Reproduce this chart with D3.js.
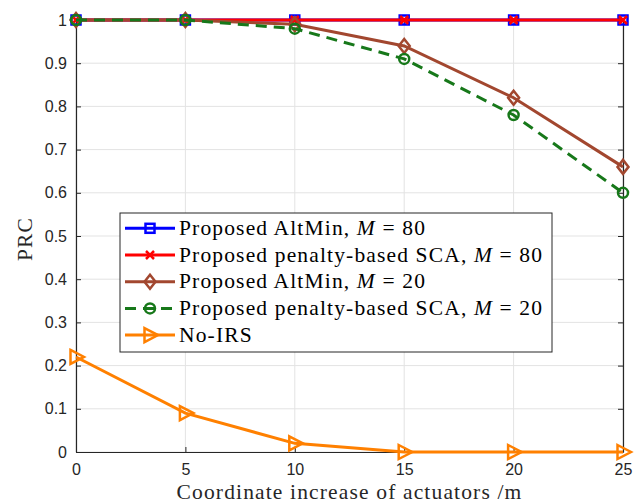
<!DOCTYPE html>
<html>
<head>
<meta charset="utf-8">
<script src="https://cdn.jsdelivr.net/npm/d3@7"></script>
<style>
  html, body { margin: 0; padding: 0; background: #fff; }
  svg { display: block; }
</style>
</head>
<body>
<svg id="chart" width="641" height="503"></svg>
<script>
// Coordinate increase of actuators (m)
const xValues = [0, 5, 10, 15, 20, 25];

// PRC for each scheme
const altMin80 = [1, 1, 1, 1, 1, 1];
const sca80 = [1, 1, 1, 1, 1, 1];
const altMin20 = [1, 1, 0.99, 0.94, 0.82, 0.66];
const sca20 = [1, 1, 0.98, 0.91, 0.78, 0.60];
const noIRS = [0.22, 0.09, 0.02, 0, 0, 0];

const xTicks = [0, 5, 10, 15, 20, 25];
const yTicks = [0, 0.1, 0.2, 0.3, 0.4, 0.5, 0.6, 0.7, 0.8, 0.9, 1];

const series = [
  { name: "Proposed AltMin, ", m: "80", values: altMin80, color: "#0000ff", marker: "square", dash: null },
  { name: "Proposed penalty-based SCA, ", m: "80", values: sca80, color: "#ff0000", marker: "x", dash: null },
  { name: "Proposed AltMin, ", m: "20", values: altMin20, color: "#a2472f", marker: "diamond", dash: null },
  { name: "Proposed penalty-based SCA, ", m: "20", values: sca20, color: "#17781a", marker: "circle", dash: "11,7" },
  { name: "No-IRS", m: null, values: noIRS, color: "#ff8000", marker: "triangle", dash: null }
];

const svg = d3.select("#chart");
const margin = { left: 76, right: 18, top: 20, bottom: 51 };
const W = 641, H = 503;
const x = d3.scaleLinear().domain([0, 25]).range([margin.left, W - margin.right]);
const y = d3.scaleLinear().domain([0, 1]).range([H - margin.bottom, margin.top]);

const tickFont = "'Liberation Sans', Arial, sans-serif";
const serif = "'Liberation Serif', 'Times New Roman', serif";
const serifSize = 21.5;
const serifSpacing = "1.15px";

// grid
const grid = svg.append("g");
grid.selectAll("line.gx").data(xTicks).join("line")
  .attr("x1", d => x(d)).attr("x2", d => x(d))
  .attr("y1", y(0)).attr("y2", y(1))
  .attr("stroke", "#e3e3e3").attr("stroke-width", 1);
grid.selectAll("line.gy").data(yTicks).join("line")
  .attr("x1", x(0)).attr("x2", x(25))
  .attr("y1", d => y(d)).attr("y2", d => y(d))
  .attr("stroke", "#e3e3e3").attr("stroke-width", 1);

// axes with inward ticks
const axisColor = "#262626";
const xAxis = svg.append("g").attr("transform", `translate(0,${y(0)})`)
  .call(d3.axisBottom(x).tickValues(xTicks).tickSizeInner(-5).tickSizeOuter(0).tickPadding(12).tickFormat(d3.format("d")));
const yAxis = svg.append("g").attr("transform", `translate(${x(0)},0)`)
  .call(d3.axisLeft(y).tickValues(yTicks).tickSizeInner(-5).tickSizeOuter(0).tickPadding(9).tickFormat(d => d === 0 || d === 1 ? d3.format("d")(d) : d3.format(".1f")(d)));
const xTop = svg.append("g").attr("transform", `translate(0,${y(1)})`)
  .call(d3.axisTop(x).tickValues(xTicks).tickSizeInner(-5).tickSizeOuter(0).tickFormat(""));
const yRight = svg.append("g").attr("transform", `translate(${x(25)},0)`)
  .call(d3.axisRight(y).tickValues(yTicks).tickSizeInner(-5).tickSizeOuter(0).tickFormat(""));
[xAxis, yAxis, xTop, yRight].forEach(g => {
  g.select(".domain").attr("stroke", axisColor).attr("stroke-width", 1.2);
  g.selectAll(".tick line").attr("stroke", axisColor).attr("stroke-width", 1);
  g.selectAll("text").attr("font-family", tickFont).attr("font-size", 16).attr("fill", "#262626");
});

// markers
function drawMarker(g, type, cx, cy, color) {
  if (type === "square") {
    g.append("rect").attr("x", cx - 4.5).attr("y", cy - 4.5).attr("width", 9).attr("height", 9)
      .attr("fill", "none").attr("stroke", color).attr("stroke-width", 2.5);
  } else if (type === "x") {
    g.append("path").attr("d", `M${cx - 4},${cy - 4}L${cx + 4},${cy + 4}M${cx - 4},${cy + 4}L${cx + 4},${cy - 4}`)
      .attr("stroke", color).attr("stroke-width", 2.5).attr("fill", "none");
  } else if (type === "diamond") {
    g.append("path").attr("d", `M${cx},${cy - 7}L${cx + 5.5},${cy}L${cx},${cy + 7}L${cx - 5.5},${cy}Z`)
      .attr("fill", "none").attr("stroke", color).attr("stroke-width", 2.5);
  } else if (type === "circle") {
    g.append("circle").attr("cx", cx).attr("cy", cy).attr("r", 5)
      .attr("fill", "none").attr("stroke", color).attr("stroke-width", 2.5);
  } else if (type === "triangle") {
    g.append("path").attr("d", `M${cx - 5.5},${cy - 7}L${cx + 8},${cy}L${cx - 5.5},${cy + 7}Z`)
      .attr("fill", "none").attr("stroke", color).attr("stroke-width", 2.5);
  }
}

// lines
const line = d3.line().x((d, i) => x(xValues[i])).y(d => y(d));
series.forEach(s => {
  const g = svg.append("g");
  g.append("path").datum(s.values).attr("d", line)
    .attr("fill", "none").attr("stroke", s.color).attr("stroke-width", 3)
    .attr("stroke-dasharray", s.dash);
  s.values.forEach((v, i) => drawMarker(g, s.marker, x(xValues[i]), y(v), s.color));
});

// axis labels
svg.append("text").attr("x", (x(0) + x(25)) / 2).attr("y", 499)
  .attr("text-anchor", "middle").attr("font-family", serif).attr("font-size", serifSize)
  .attr("letter-spacing", serifSpacing).attr("fill", "#262626")
  .text("Coordinate increase of actuators /m");
svg.append("text").attr("transform", `translate(32,${(y(0) + y(1)) / 2 + 3}) rotate(-90)`)
  .attr("text-anchor", "middle").attr("font-family", serif).attr("font-size", serifSize)
  .attr("letter-spacing", serifSpacing).attr("fill", "#262626")
  .text("PRC");

// legend
const lg = svg.append("g");
lg.append("rect").attr("x", 120).attr("y", 213).attr("width", 432).attr("height", 139)
  .attr("fill", "#fff").attr("stroke", "#262626").attr("stroke-width", 1);
series.forEach((s, i) => {
  const ly = 228.3 + i * 26.7;
  const g = lg.append("g");
  g.append("line").attr("x1", 125).attr("x2", 175).attr("y1", ly).attr("y2", ly)
    .attr("stroke", s.color).attr("stroke-width", 3).attr("stroke-dasharray", s.dash);
  drawMarker(g, s.marker, 150, ly, s.color);
  const t = g.append("text").attr("x", 179).attr("y", ly + 6.5)
    .attr("font-family", serif).attr("font-size", serifSize)
    .attr("letter-spacing", serifSpacing).attr("fill", "#000");
  t.append("tspan").text(s.name);
  if (s.m) {
    t.append("tspan").attr("font-style", "italic").text("M");
    t.append("tspan").text(" = " + s.m);
  }
});
</script>
</body>
</html>
